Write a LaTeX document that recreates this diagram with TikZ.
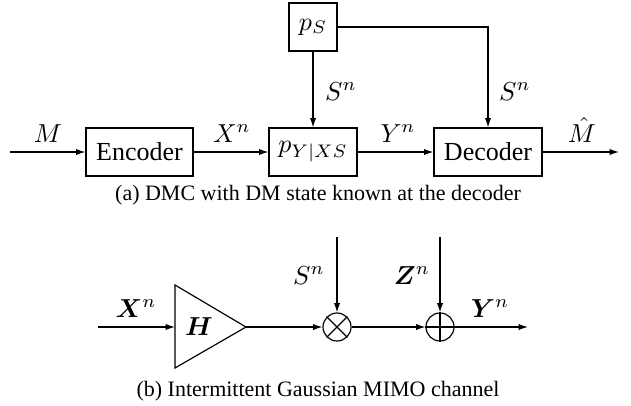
\documentclass[tikz,border=0pt]{standalone}
\usepackage{fontspec}
\setmainfont{Liberation Serif}
\usepackage{bm}
\usetikzlibrary{arrows.meta}
\begin{document}
\begin{tikzpicture}[x=0.3846pt,y=-0.3846pt, line width=0.45pt,
  blk/.style={draw, rectangle, inner sep=0pt, minimum height=18.46pt},
  lbl/.style={inner sep=0pt},
  arr/.style={-{Latex[length=3.6pt,width=2.4pt]}},
  sumc/.style={draw, circle, inner sep=0pt, minimum size=10.77pt},
  captxt/.style={font=\fontsize{8.46}{10}\selectfont, inner sep=0pt}]
\useasboundingbox (0,0) rectangle (631,405);

% (a) DMC with state
\node[blk, minimum width=41.15pt] (enc) at (139.5,152) {Encoder};
\node[blk, minimum width=33.85pt] (ch) at (313,152) {$p_{Y|XS}$};
\node[blk, minimum width=41.54pt] (dec) at (488,152) {Decoder};
\node[blk, minimum width=18.46pt] (ps) at (313,27) {$p_S$};
\coordinate (in) at (10,152);
\coordinate (out) at (619,152);
\draw[arr] (in) -- (enc);
\draw[arr] (enc) -- (ch);
\draw[arr] (ch) -- (dec);
\draw[arr] (dec) -- (out);
\draw[arr] (ps) -- (ch);
\draw[arr] (ps.east) -| (dec.north);

\node[lbl, anchor=base] (lM) at (48,142) {$M$};
\node[lbl, anchor=base] (lX) at (232,142) {$X^n$};
\node[lbl, anchor=base] (lY) at (398,142) {$Y^n$};
\node[lbl, anchor=base] (lMh) at (582,142) {$\hat{M}$};
\node[lbl, anchor=base] (lS1) at (341,100) {$S^n$};
\node[lbl, anchor=base] (lS2) at (515,100) {$S^n$};

\node[captxt] (capa) at (318,195) {(a) DMC with DM state known at the decoder};

% (b) Intermittent Gaussian MIMO channel
\coordinate (tl) at (175,285);
\coordinate (bl) at (175,368);
\coordinate (tip) at (246,327);
\coordinate (tin) at (175,327);
\draw (tl) -- (tip) -- (bl) -- cycle;
\node[lbl] (lH) at (199,327) {$\bm{H}$};

\node[sumc] (mul) at (337,327) {};
\draw (mul.north east) -- (mul.south west) (mul.north west) -- (mul.south east);
\node[sumc] (add) at (440,327) {};
\draw (add.north) -- (add.south) (add.west) -- (add.east);

\coordinate (bin) at (98,327);
\coordinate (bout) at (528,327);
\coordinate (stop) at (337,237);
\coordinate (ztop) at (440,237);
\draw[arr] (bin) -- (tin);
\draw[arr] (tip) -- (mul.west);
\draw[arr] (mul.east) -- (add.west);
\draw[arr] (add.east) -- (bout);
\draw[arr] (stop) -- (mul.north);
\draw[arr] (ztop) -- (add.north);

\node[lbl, anchor=base] (lXb) at (136,317) {$\bm{X}^n$};
\node[lbl, anchor=base] (lSb) at (309,284) {$S^n$};
\node[lbl, anchor=base] (lZb) at (412,284) {$\bm{Z}^n$};
\node[lbl, anchor=base] (lYb) at (490,317) {$\bm{Y}^n$};

\node[captxt] (capb) at (318,391) {(b) Intermittent Gaussian MIMO channel};
\end{tikzpicture}
\end{document}
